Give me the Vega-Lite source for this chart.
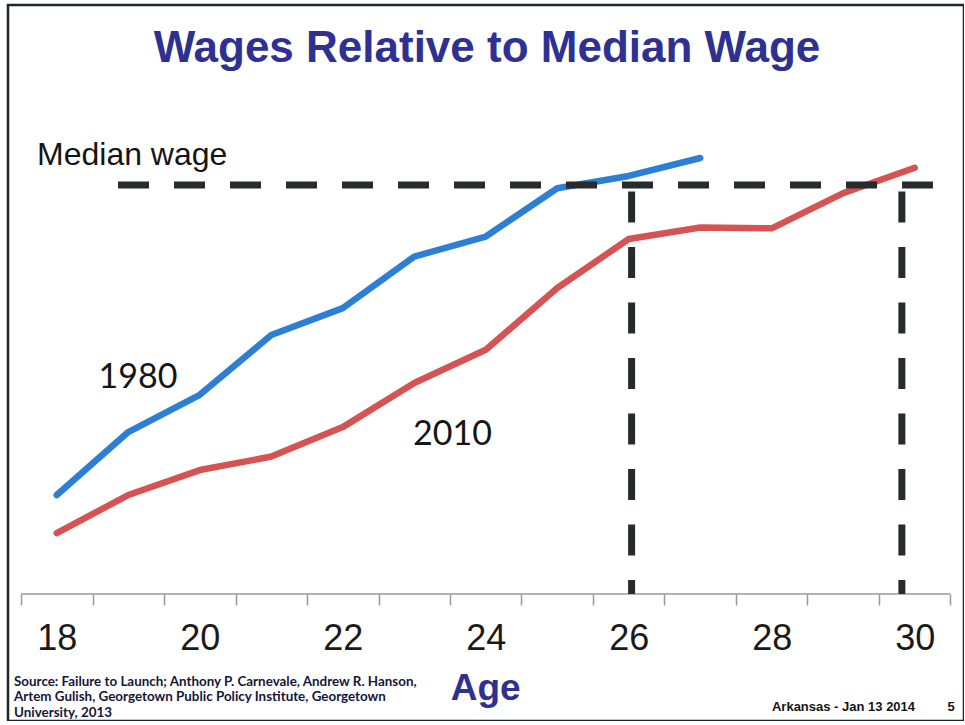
{
  "$schema": "https://vega.github.io/schema/vega-lite/v6.json",
  "width": 956,
  "height": 716,
  "autosize": {"type": "none"},
  "padding": {"left": 8, "top": 5, "right": 0, "bottom": 0},
  "background": "white",
  "config": {"view": {"stroke": "#1f2626", "strokeWidth": 2.5}},
  "datasets": {
    "wages": [
      {"cohort": "1980", "age": 18, "wage": 0.242},
      {"cohort": "1980", "age": 19, "wage": 0.396},
      {"cohort": "1980", "age": 20, "wage": 0.487},
      {"cohort": "1980", "age": 21, "wage": 0.633},
      {"cohort": "1980", "age": 22, "wage": 0.699},
      {"cohort": "1980", "age": 23, "wage": 0.825},
      {"cohort": "1980", "age": 24, "wage": 0.874},
      {"cohort": "1980", "age": 25, "wage": 0.992},
      {"cohort": "1980", "age": 26, "wage": 1.022},
      {"cohort": "1980", "age": 27, "wage": 1.066},
      {"cohort": "2010", "age": 18, "wage": 0.149},
      {"cohort": "2010", "age": 19, "wage": 0.242},
      {"cohort": "2010", "age": 20, "wage": 0.303},
      {"cohort": "2010", "age": 21, "wage": 0.336},
      {"cohort": "2010", "age": 22, "wage": 0.408},
      {"cohort": "2010", "age": 23, "wage": 0.516},
      {"cohort": "2010", "age": 24, "wage": 0.597},
      {"cohort": "2010", "age": 25, "wage": 0.748},
      {"cohort": "2010", "age": 26, "wage": 0.868},
      {"cohort": "2010", "age": 27, "wage": 0.896},
      {"cohort": "2010", "age": 28, "wage": 0.894},
      {"cohort": "2010", "age": 29, "wage": 0.980},
      {"cohort": "2010", "age": 30, "wage": 1.042}
    ],
    "ageRange": [{"from": 17.5, "to": 30.5, "level": 0}],
    "median": [{"from": 18.857, "to": 30.255, "level": 1}],
    "reach": [
      {"cohort": "1980", "age": 26.04, "top": 1, "base": 0},
      {"cohort": "2010", "age": 29.82, "top": 1, "base": 0}
    ],
    "one": [{"k": 1}]
  },
  "layer": [
    {
      "data": {"name": "ageRange"},
      "mark": {"type": "rule", "color": "#9a9a9a", "strokeWidth": 1.5},
      "encoding": {
        "x": {"field": "from", "type": "quantitative"},
        "x2": {"field": "to"},
        "y": {"field": "level", "type": "quantitative", "axis": null}
      }
    },
    {
      "data": {"name": "wages"},
      "mark": {"type": "line", "strokeWidth": 6.5, "strokeCap": "round", "strokeJoin": "round"},
      "encoding": {
        "x": {
          "field": "age",
          "type": "quantitative",
          "scale": {"domain": [17.318, 30.689], "nice": false, "zero": false},
          "axis": {
            "orient": "bottom",
            "offset": -127,
            "domain": false,
            "grid": false,
            "title": null,
            "values": [17.5, 18.5, 19.5, 20.5, 21.5, 22.5, 23.5, 24.5, 25.5, 26.5, 27.5, 28.5, 29.5, 30.5],
            "tickSize": 11,
            "tickColor": "#9a9a9a",
            "tickWidth": 1.5,
            "labelExpr": "(datum.value - 0.5) % 2 === 0 ? (datum.value - 0.5) : ''",
            "labelOffset": -35.75,
            "labelFont": "Liberation Sans",
            "labelFontSize": 36,
            "labelColor": "#1a1a1a",
            "labelPadding": 16,
            "labelOverlap": false,
            "labelBound": false,
            "labelFlush": false
          }
        },
        "y": {"field": "wage", "type": "quantitative", "scale": {"domain": [-0.3105, 1.44], "nice": false, "zero": false}, "axis": null},
        "color": {"field": "cohort", "type": "nominal", "scale": {"domain": ["1980", "2010"], "range": ["#2d7fd5", "#d65353"]}, "legend": null}
      }
    },
    {
      "data": {"name": "median"},
      "mark": {"type": "rule", "color": "#262b2b", "strokeWidth": 7, "strokeDash": [31, 25]},
      "encoding": {
        "x": {"field": "from", "type": "quantitative"},
        "x2": {"field": "to"},
        "y": {"field": "level", "type": "quantitative", "axis": null}
      }
    },
    {
      "data": {"name": "reach"},
      "mark": {"type": "rule", "color": "#262b2b", "strokeWidth": 7, "strokeDash": [31, 24.5], "strokeDashOffset": 49},
      "encoding": {
        "x": {"field": "age", "type": "quantitative"},
        "y": {"field": "top", "type": "quantitative", "axis": null},
        "y2": {"field": "base"}
      }
    },
    {
      "data": {"name": "one"},
      "mark": {"type": "text", "font": "Liberation Sans", "fontSize": 44, "fontWeight": "bold", "color": "#2e3192", "align": "center", "baseline": "alphabetic"},
      "encoding": {
        "x": {"datum": 24.017, "type": "quantitative"},
        "y": {"datum": 1.301, "type": "quantitative", "axis": null},
        "text": {"value": "Wages Relative to Median Wage"}
      }
    },
    {
      "data": {"name": "one"},
      "mark": {"type": "text", "font": "Liberation Sans", "fontSize": 32, "color": "#151515", "align": "left", "baseline": "alphabetic"},
      "encoding": {
        "x": {"datum": 17.724, "type": "quantitative"},
        "y": {"datum": 1.049, "type": "quantitative", "axis": null},
        "text": {"value": "Median wage"}
      }
    },
    {
      "data": {"name": "one"},
      "mark": {"type": "text", "font": "Lato", "fontSize": 34, "color": "#151515", "align": "center", "baseline": "alphabetic"},
      "encoding": {
        "x": {"datum": 19.136, "type": "quantitative"},
        "y": {"datum": 0.504, "type": "quantitative", "axis": null},
        "text": {"value": "1980"}
      }
    },
    {
      "data": {"name": "one"},
      "mark": {"type": "text", "font": "Lato", "fontSize": 34, "color": "#151515", "align": "center", "baseline": "alphabetic"},
      "encoding": {
        "x": {"datum": 23.535, "type": "quantitative"},
        "y": {"datum": 0.364, "type": "quantitative", "axis": null},
        "text": {"value": "2010"}
      }
    },
    {
      "data": {"name": "one"},
      "mark": {"type": "text", "font": "Liberation Sans", "fontSize": 37, "fontWeight": "bold", "color": "#2e3192", "align": "center", "baseline": "alphabetic"},
      "encoding": {
        "x": {"datum": 24.0, "type": "quantitative"},
        "y": {"datum": -0.259, "type": "quantitative", "axis": null},
        "text": {"value": "Age"}
      }
    },
    {
      "data": {"name": "one"},
      "mark": {"type": "text", "font": "Lato", "fontSize": 13.4, "fontWeight": "bold", "color": "#16163a", "align": "left", "baseline": "alphabetic"},
      "encoding": {
        "x": {"datum": 17.402, "type": "quantitative"},
        "y": {"datum": -0.225, "type": "quantitative", "axis": null},
        "text": {"value": "Source:  Failure to Launch;  Anthony P. Carnevale, Andrew R. Hanson,"}
      }
    },
    {
      "data": {"name": "one"},
      "mark": {"type": "text", "font": "Lato", "fontSize": 13.4, "fontWeight": "bold", "color": "#16163a", "align": "left", "baseline": "alphabetic"},
      "encoding": {
        "x": {"datum": 17.402, "type": "quantitative"},
        "y": {"datum": -0.262, "type": "quantitative", "axis": null},
        "text": {"value": "Artem Gulish, Georgetown  Public Policy Institute, Georgetown"}
      }
    },
    {
      "data": {"name": "one"},
      "mark": {"type": "text", "font": "Lato", "fontSize": 13.4, "fontWeight": "bold", "color": "#16163a", "align": "left", "baseline": "alphabetic"},
      "encoding": {
        "x": {"datum": 17.402, "type": "quantitative"},
        "y": {"datum": -0.300, "type": "quantitative", "axis": null},
        "text": {"value": "University, 2013"}
      }
    },
    {
      "data": {"name": "one"},
      "mark": {"type": "text", "font": "Liberation Sans", "fontSize": 13, "fontWeight": "bold", "color": "#151515", "align": "left", "baseline": "alphabetic"},
      "encoding": {
        "x": {"datum": 28.003, "type": "quantitative"},
        "y": {"datum": -0.286, "type": "quantitative", "axis": null},
        "text": {"value": "Arkansas - Jan 13 2014"}
      }
    },
    {
      "data": {"name": "one"},
      "mark": {"type": "text", "font": "Liberation Sans", "fontSize": 13, "fontWeight": "bold", "color": "#151515", "align": "center", "baseline": "alphabetic"},
      "encoding": {
        "x": {"datum": 30.507, "type": "quantitative"},
        "y": {"datum": -0.286, "type": "quantitative", "axis": null},
        "text": {"value": "5"}
      }
    }
  ]
}
